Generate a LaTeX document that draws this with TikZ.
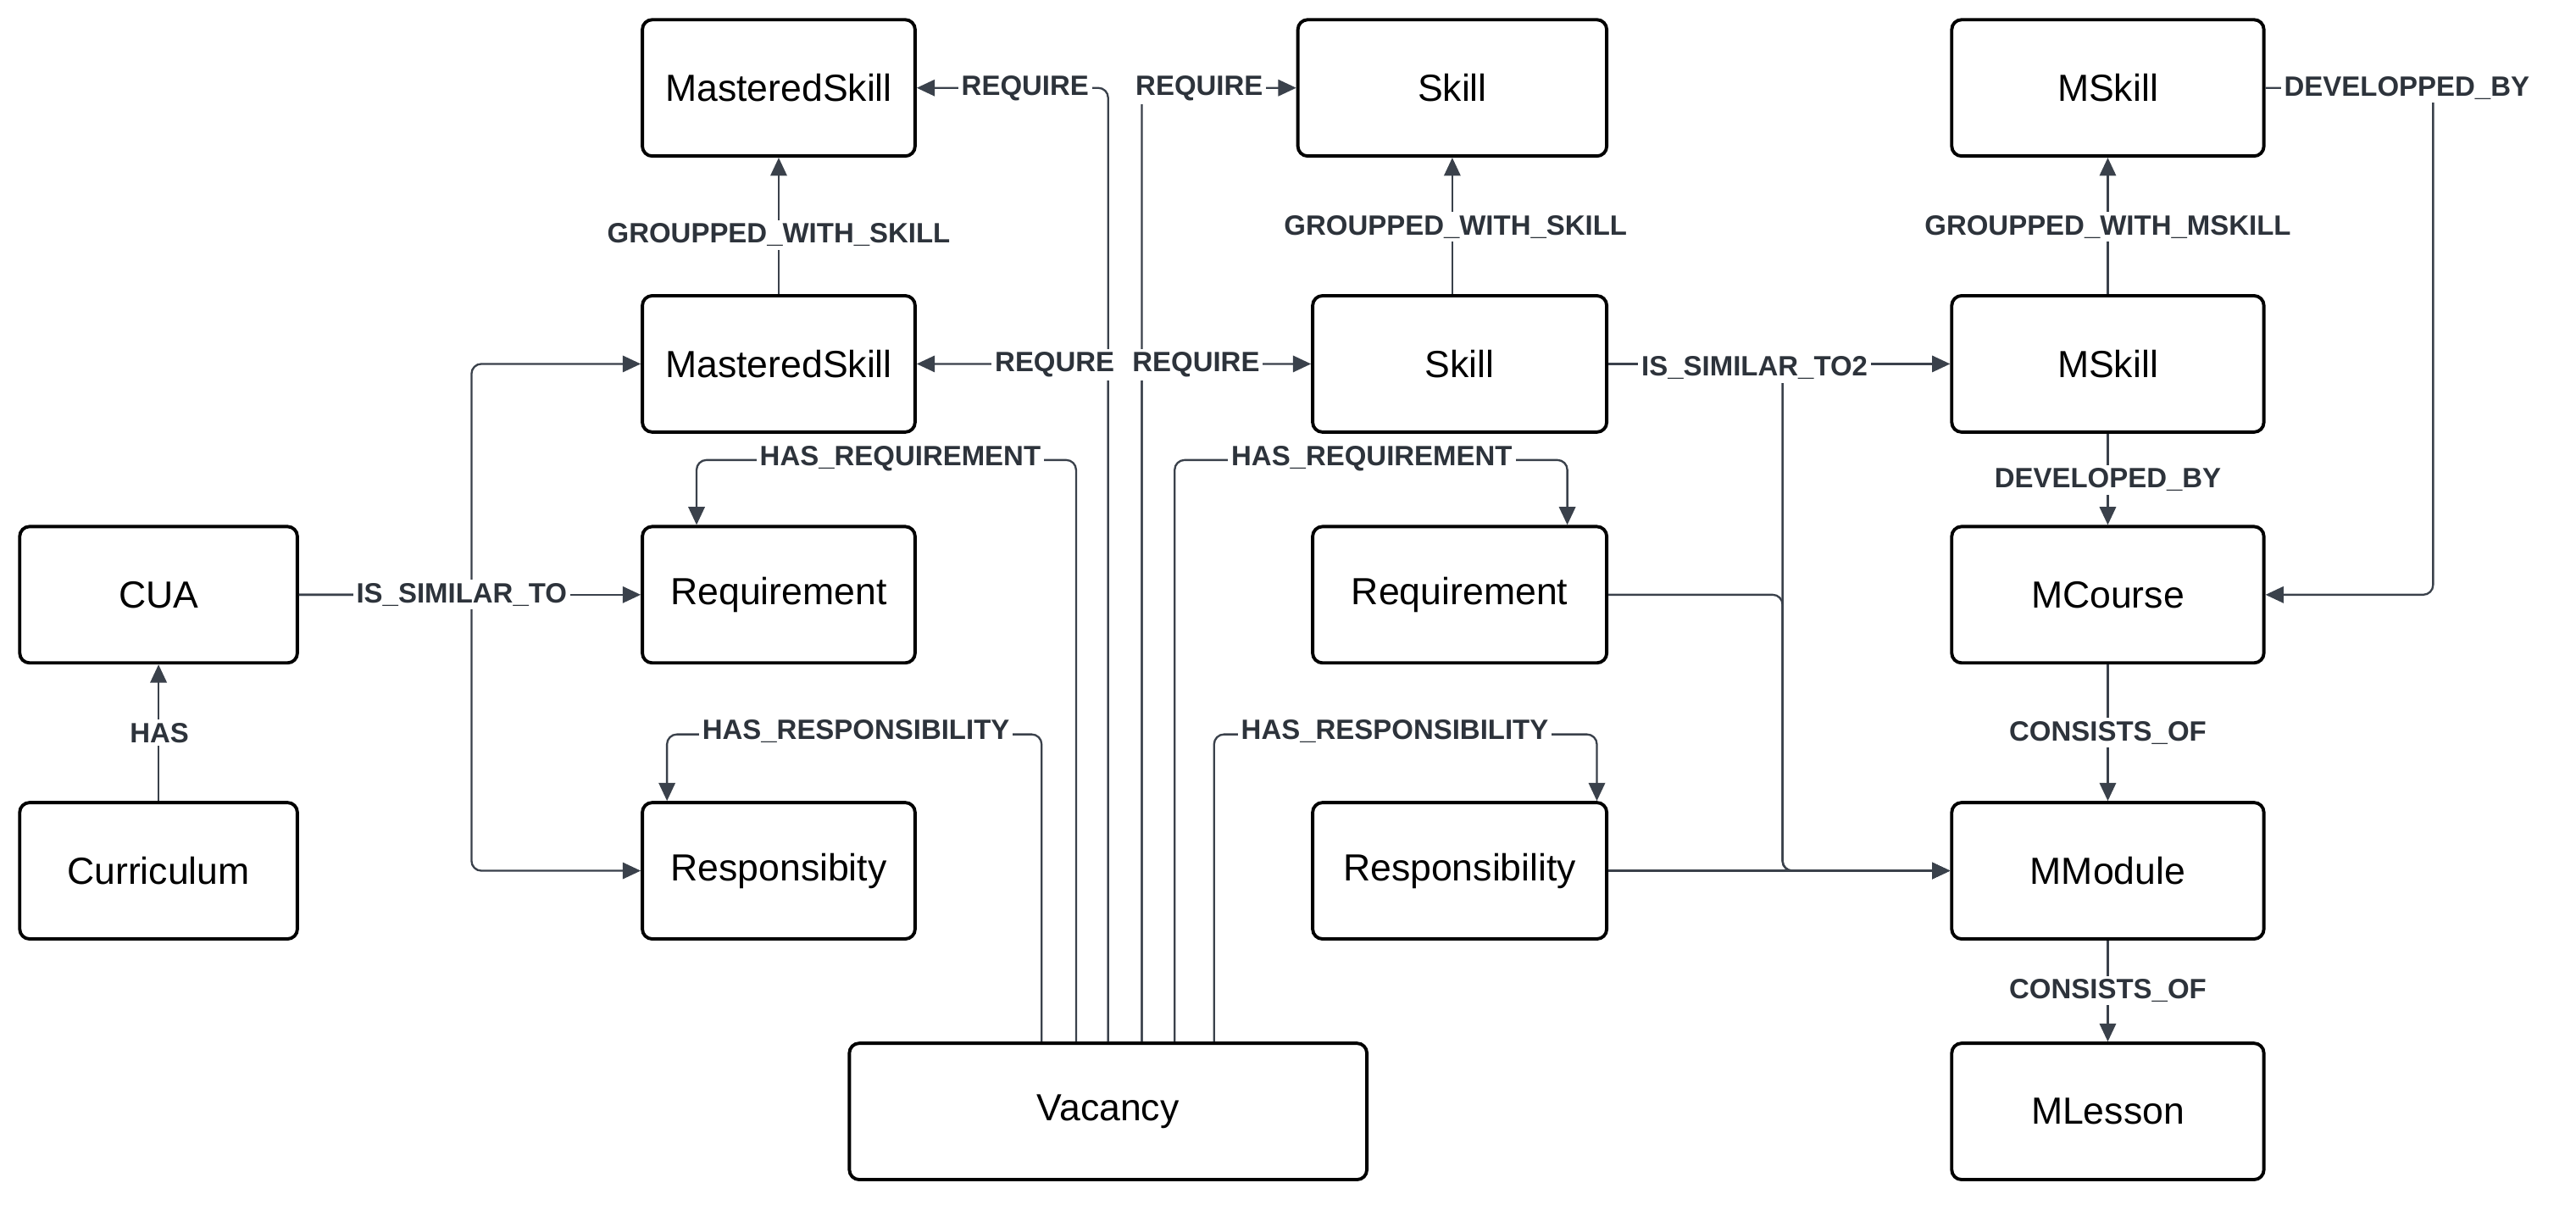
\documentclass[tikz,border=0pt]{standalone}
\usepackage{fontspec}
\setmainfont{Liberation Sans}
\usetikzlibrary{arrows.meta}
\definecolor{lc}{HTML}{3A414B}
\definecolor{tc}{HTML}{2D333B}
\begin{document}
\begin{tikzpicture}[x=0.5pt,y=-0.5pt,
 box/.style={draw=black,line width=1pt,rounded corners=3pt,minimum height=41.5pt,minimum width=83pt,inner sep=0pt,font=\fontsize{11.5}{13}\selectfont,fill=white},
 e/.style={draw=lc,line width=0.6pt,-{Triangle[length=5.5pt,width=5pt]},rounded corners=3pt},
 lab/.style={fill=white,text=tc,inner sep=1pt,font=\bfseries\fontsize{8.5}{10}\selectfont}]
\useasboundingbox (0,0) rectangle (1568,733);
% nodes
\node[box] (ms1) at (474,53.5) {MasteredSkill};
\node[box,minimum width=94pt] (sk1) at (884,53.5) {Skill};
\node[box,minimum width=95pt] (mk1) at (1283,53.5) {MSkill};
\node[box] (ms2) at (474,221.5) {MasteredSkill};
\node[box,minimum width=89.5pt] (sk2) at (888.5,221.5) {Skill};
\node[box,minimum width=95pt] (mk2) at (1283,221.5) {MSkill};
\node[box,minimum width=84.5pt] (cua) at (96.5,362) {CUA};
\node[box] (rq1) at (474,362) {Requirement};
\node[box,minimum width=89.5pt] (rq2) at (888.5,362) {Requirement};
\node[box,minimum width=95pt] (mc) at (1283,362) {MCourse};
\node[box,minimum width=84.5pt] (cur) at (96.5,530) {Curriculum};
\node[box] (rs1) at (474,530) {Responsibity};
\node[box,minimum width=89.5pt] (rs2) at (888.5,530) {Responsibility};
\node[box,minimum width=95pt] (mm) at (1283,530) {MModule};
\node[box,minimum width=157.5pt] (vac) at (674.5,676.5) {Vacancy};
\node[box,minimum width=95pt] (ml) at (1283,676.5) {MLesson};
% helper coordinates
\coordinate (x1) at (634,0);
\coordinate (x2) at (655,0);
\coordinate (x3) at (674.5,0);
\coordinate (x4) at (695,0);
\coordinate (x5) at (715,0);
\coordinate (x6) at (739,0);
\coordinate (a1) at (406,0);
\coordinate (a2) at (424,0);
\coordinate (a3) at (954,0);
\coordinate (a4) at (972,0);
\coordinate (sx) at (884,0);
\coordinate (jl) at (287,0);
\coordinate (jr) at (1085,0);
\coordinate (dv) at (1481,0);
% edges
\draw[e] (cur) -- (cua);
\draw[e] (cua) -- (rq1);
\draw[e] (cua.east) -- (jl |- cua.east) |- (ms2.west);
\draw[e] (cua.east) -- (jl |- cua.east) |- (rs1.west);
\draw[e] (ms2) -- (ms1);
\draw[e] (sx |- sk2.north) -- (sx |- sk1.south);
\draw[e] (mk2) -- (mk1);
\draw[e] (mk1.east) -- (dv |- mk1.east) |- (mc.east);
\draw[e] (mk2) -- (mc);
\draw[e] (mc) -- (mm);
\draw[e] (mm) -- (ml);
\draw[e] (sk2) -- (mk2);
\draw[e] (sk2.east) -- (jr |- sk2.east) |- (mm.west);
\draw[e] (rq2.east) -- (jr |- rq2.east) |- (mm.west);
\draw[e] (rs2) -- (mm);
% vacancy connectors
\draw[e] (x1 |- vac.north) -- (634,447) -| (a1 |- rs1.north);
\draw[e] (x2 |- vac.north) -- (655,280) -| (a2 |- rq1.north);
\draw[e] (x3 |- vac.north) |- (ms1.east);
\draw[e] (x3 |- vac.north) |- (ms2.east);
\draw[e] (x4 |- vac.north) |- (sk1.west);
\draw[e] (x4 |- vac.north) |- (sk2.west);
\draw[e] (x5 |- vac.north) -- (715,280) -| (a3 |- rq2.north);
\draw[e] (x6 |- vac.north) -- (739,447) -| (a4 |- rs2.north);
% labels
\node[lab] at (97,446) {HAS};
\node[lab] at (281,362) {IS\_SIMILAR\_TO};
\node[lab] at (474,143) {GROUPPED\_WITH\_SKILL};
\node[lab] at (886,138) {GROUPPED\_WITH\_SKILL};
\node[lab] at (1283,138) {GROUPPED\_WITH\_MSKILL};
\node[lab] at (1465,53.5) {DEVELOPPED\_BY};
\node[lab] at (1283,292) {DEVELOPED\_BY};
\node[lab] at (1283,446) {CONSISTS\_OF};
\node[lab] at (1283,603) {CONSISTS\_OF};
\node[lab] at (1068,224) {IS\_SIMILAR\_TO2};
\node[lab] at (521,445) {HAS\_RESPONSIBILITY};
\node[lab] at (849,445) {HAS\_RESPONSIBILITY};
\node[lab] at (548,279) {HAS\_REQUIREMENT};
\node[lab] at (835,279) {HAS\_REQUIREMENT};
\node[lab] at (624,54) {REQUIRE};
\node[lab] at (730,54) {REQUIRE};
\node[lab] at (642,222) {REQURE};
\node[lab] at (728,222) {REQUIRE};
\end{tikzpicture}
\end{document}
